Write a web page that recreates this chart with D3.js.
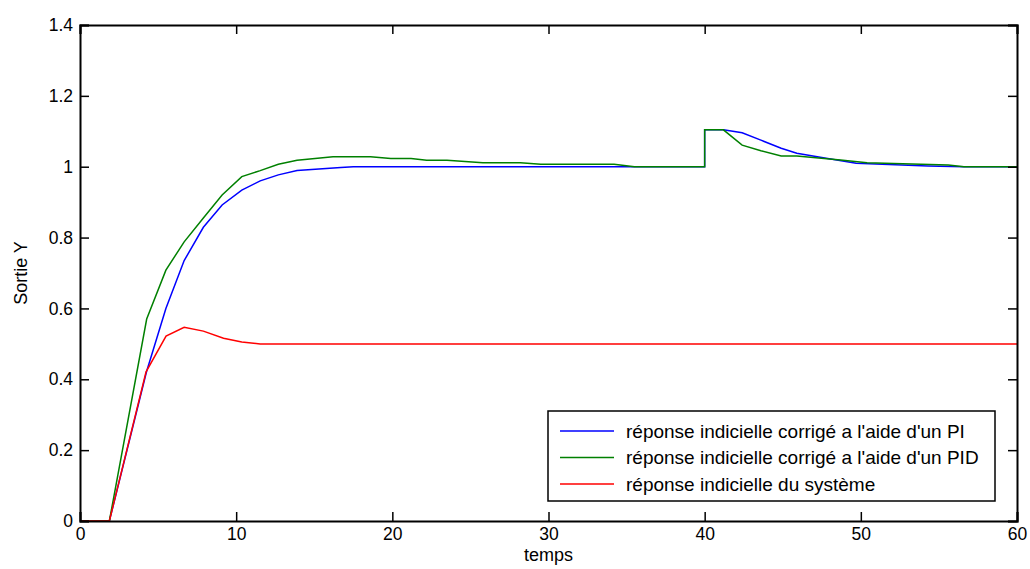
<!DOCTYPE html>
<html>
  <head>
    <meta charset="utf-8">
    <script src="https://d3js.org/d3.v7.min.js"></script>
    <style>
      body { margin: 0; background: #fff; }
      text { font-family: "Liberation Sans", Arial, sans-serif; fill: #000; }
    </style>
  </head>
  <body>
    <svg id="chart" width="1030" height="569"></svg>
    <script>
      // values
      const xTicks = [0, 10, 20, 30, 40, 50, 60];
      const yTicks = [0, 0.2, 0.4, 0.6, 0.8, 1, 1.2, 1.4];
      const yTickLabels = ["0", "0.2", "0.4", "0.6", "0.8", "1", "1.2", "1.4"];

      const piT = [0, 1.88, 4.25, 5.5, 6.67, 7.9, 9.1, 10.36, 11.54, 12.7, 13.9, 16.7, 17.5, 40, 40, 41.2, 42.4, 43.6, 44.9, 45.9, 47.4, 49.7, 54.3, 56.6, 60];
      const piY = [0, 0, 0.42, 0.6, 0.735, 0.829, 0.892, 0.934, 0.96, 0.977, 0.989, 0.998, 1, 1, 1.104, 1.104, 1.096, 1.075, 1.052, 1.038, 1.027, 1.01, 1.002, 1, 1];

      const pidT = [0, 1.88, 4.27, 5.5, 6.67, 7.9, 9.1, 10.36, 11.54, 12.7, 13.9, 16.2, 18.6, 19.9, 21.2, 22.2, 23.5, 25.8, 28.2, 29.5, 34.2, 35.5, 40, 40, 41.2, 42.4, 43.6, 44.9, 45.9, 48.7, 50.4, 52.1, 55.6, 56.6, 60];
      const pidY = [0, 0, 0.57, 0.708, 0.788, 0.855, 0.92, 0.972, 0.989, 1.007, 1.018, 1.028, 1.028, 1.023, 1.023, 1.018, 1.018, 1.011, 1.011, 1.007, 1.007, 1.0, 1.0, 1.104, 1.104, 1.061, 1.045, 1.03, 1.03, 1.019, 1.011, 1.009, 1.005, 1, 1];

      const sysT = [0, 1.88, 4.23, 5.51, 6.67, 7.9, 9.19, 10.36, 11.54, 60];
      const sysY = [0, 0, 0.421, 0.522, 0.547, 0.536, 0.516, 0.505, 0.4996, 0.4996];

      const seriesNames = [
        "réponse indicielle corrigé a l'aide d'un PI",
        "réponse indicielle corrigé a l'aide d'un PID",
        "réponse indicielle du système"
      ];
      const seriesColors = ["#0000ff", "#008000", "#ff0000"];

      const svg = d3.select("svg#chart");
      const margin = { top: 25, right: 13, bottom: 48, left: 80 };
      const width = 1030 - margin.left - margin.right;
      const height = 569 - margin.top - margin.bottom;

      const x = d3.scaleLinear().domain([0, 60]).range([0, width]);
      const y = d3.scaleLinear().domain([0, 1.4]).range([height, 0]);

      const g = svg.append("g")
        .attr("transform", "translate(" + margin.left + "," + margin.top + ")");

      const series = [
        { t: piT, v: piY },
        { t: pidT, v: pidY },
        { t: sysT, v: sysY }
      ];

      const line = d3.line().x(d => x(d[0])).y(d => y(d[1]));

      // curves
      series.forEach((s, i) => {
        const pts = s.t.map((t, k) => [t, s.v[k]]);
        g.append("path")
          .datum(pts)
          .attr("fill", "none")
          .attr("stroke", seriesColors[i])
          .attr("stroke-width", 1.5)
          .attr("d", line);
      });

      // axes with inward ticks on all four sides
      const tickLen = 9;
      const bottomAxis = d3.axisBottom(x).tickValues(xTicks).tickSize(-tickLen).tickPadding(7);
      const topAxis = d3.axisTop(x).tickValues(xTicks).tickSize(-tickLen).tickFormat("");
      const leftAxis = d3.axisLeft(y).tickValues(yTicks).tickSize(-tickLen).tickPadding(7)
        .tickFormat((d, i) => yTickLabels[i]);
      const rightAxis = d3.axisRight(y).tickValues(yTicks).tickSize(-tickLen).tickFormat("");

      function styleAxis(sel) {
        sel.selectAll("path.domain").attr("stroke", "#000").attr("stroke-width", 2);
        sel.selectAll(".tick line").attr("stroke", "#000").attr("stroke-width", 1.5);
        sel.selectAll(".tick text").style("font-size", "17.5px").attr("fill", "#000");
        sel.attr("font-family", null);
      }

      g.append("g").attr("transform", "translate(0," + height + ")").call(bottomAxis).call(styleAxis);
      g.append("g").call(topAxis).call(styleAxis);
      g.append("g").call(leftAxis).call(styleAxis);
      g.append("g").attr("transform", "translate(" + width + ",0)").call(rightAxis).call(styleAxis);

      // axis titles
      svg.append("text")
        .attr("x", margin.left + width / 2)
        .attr("y", 561)
        .attr("text-anchor", "middle")
        .style("font-size", "18px")
        .text("temps");

      svg.append("text")
        .attr("transform", "translate(27," + (margin.top + height / 2) + ") rotate(-90)")
        .attr("text-anchor", "middle")
        .style("font-size", "18px")
        .text("Sortie Y");

      // legend
      const legend = g.append("g").attr("transform", "translate(" + (548 - margin.left) + "," + (411 - margin.top) + ")");
      legend.append("rect")
        .attr("width", 447)
        .attr("height", 90)
        .attr("fill", "#fff")
        .attr("stroke", "#000")
        .attr("stroke-width", 1.5);
      seriesNames.forEach((name, i) => {
        const row = legend.append("g").attr("transform", "translate(0," + (20 + i * 26.5) + ")");
        row.append("line")
          .attr("x1", 12).attr("x2", 66)
          .attr("stroke", seriesColors[i])
          .attr("stroke-width", 1.5);
        row.append("text")
          .attr("x", 78)
          .attr("dy", "0.35em")
          .style("font-size", "19px")
          .text(name);
      });
    </script>
  </body>
</html>
